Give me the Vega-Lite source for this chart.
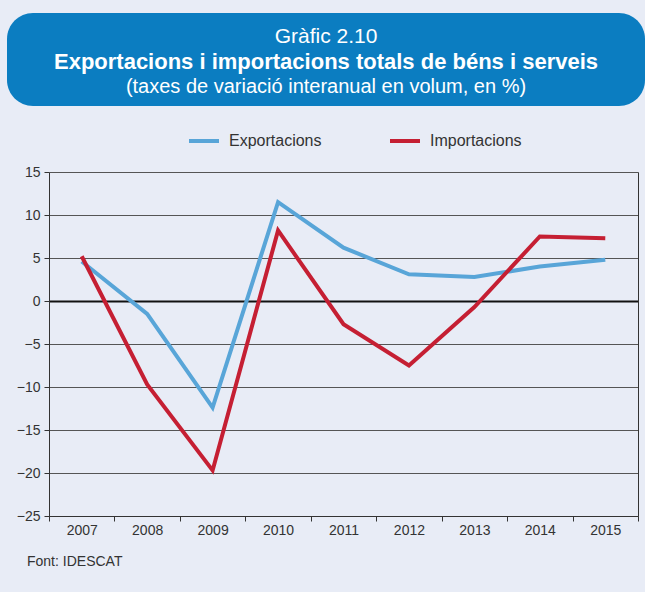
{
  "$schema": "https://vega.github.io/schema/vega-lite/v6.json",
  "background": "#e8ecf6",
  "padding": {"left": 7, "top": 13, "right": 0, "bottom": 24},
  "spacing": 18,
  "resolve": {"legend": {"color": "independent"}, "scale": {"y": "independent", "x": "independent"}},
  "config": {
    "font": "Liberation Sans",
    "view": {"stroke": null}
  },
  "datasets": {
    "header": [
      {"k": 1, "t": "Gràfic 2.10"},
      {"k": 2, "t": "Exportacions i importacions totals de béns i serveis"},
      {"k": 3, "t": "(taxes de variació interanual en volum, en %)"}
    ],
    "series": [
      {"year": "2007", "serie": "Exportacions", "v": 4.6},
      {"year": "2008", "serie": "Exportacions", "v": -1.5},
      {"year": "2009", "serie": "Exportacions", "v": -12.4},
      {"year": "2010", "serie": "Exportacions", "v": 11.5},
      {"year": "2011", "serie": "Exportacions", "v": 6.2},
      {"year": "2012", "serie": "Exportacions", "v": 3.1},
      {"year": "2013", "serie": "Exportacions", "v": 2.8},
      {"year": "2014", "serie": "Exportacions", "v": 4.0},
      {"year": "2015", "serie": "Exportacions", "v": 4.8},
      {"year": "2007", "serie": "Importacions", "v": 5.2},
      {"year": "2008", "serie": "Importacions", "v": -9.7},
      {"year": "2009", "serie": "Importacions", "v": -19.7},
      {"year": "2010", "serie": "Importacions", "v": 8.2},
      {"year": "2011", "serie": "Importacions", "v": -2.7},
      {"year": "2012", "serie": "Importacions", "v": -7.5},
      {"year": "2013", "serie": "Importacions", "v": -0.7},
      {"year": "2014", "serie": "Importacions", "v": 7.5},
      {"year": "2015", "serie": "Importacions", "v": 7.3}
    ]
  },
  "vconcat": [
    {
      "width": 638,
      "height": 93,
      "view": {"fill": "#0b7dc1", "stroke": null, "cornerRadius": 26},
      "data": {"name": "header"},
      "encoding": {
        "y": {"field": "k", "type": "ordinal", "scale": {"type": "point", "range": [24, 74], "padding": 0}, "axis": null},
        "text": {"field": "t"}
      },
      "layer": [
        {
          "transform": [{"filter": "datum.k == 1"}],
          "mark": {"type": "text", "color": "white", "baseline": "middle", "align": "center", "fontSize": 21, "fontWeight": "normal"}
        },
        {
          "transform": [{"filter": "datum.k == 2"}],
          "mark": {"type": "text", "color": "white", "baseline": "middle", "align": "center", "fontSize": 22, "fontWeight": "bold"}
        },
        {
          "transform": [{"filter": "datum.k == 3"}],
          "mark": {"type": "text", "color": "white", "baseline": "middle", "align": "center", "fontSize": 20, "fontWeight": "normal"}
        }
      ]
    },
    {
      "width": 638,
      "height": 344,
      "view": {"stroke": null},
      "data": {"name": "series"},
      "title": {
        "text": "Font: IDESCAT",
        "orient": "bottom",
        "anchor": "start",
        "frame": "group",
        "fontSize": 14,
        "fontWeight": "normal",
        "color": "#333",
        "dx": 20,
        "offset": 18
      },
      "resolve": {"axis": {"y": "independent"}},
      "layer": [
        {
          "mark": {"type": "line", "strokeWidth": 4},
          "encoding": {
            "x": {
              "field": "year",
              "type": "ordinal",
              "scale": {"type": "band", "paddingInner": 0, "paddingOuter": 0, "range": [42, 631]},
              "axis": {
                "title": null,
                "labelAngle": 0,
                "tickBand": "extent",
                "tickSize": 5,
                "labelFontSize": 14,
                "labelPadding": 2,
                "domainColor": "#333",
                "tickColor": "#333",
                "labelColor": "#333",
                "grid": false
              }
            },
            "y": {
              "field": "v",
              "type": "quantitative",
              "scale": {"domain": [-25, 15], "nice": false, "zero": false},
              "axis": {
                "title": null,
                "offset": -42,
                "values": [-25, -20, -15, -10, -5, 0, 5, 10, 15],
                "tickSize": 5,
                "labelFontSize": 14,
                "labelPadding": 4,
                "gridColor": {"condition": {"test": "datum.value === 0", "value": "#111"}, "value": "#555"},
                "gridWidth": {"condition": {"test": "datum.value === 0", "value": 2}, "value": 1},
                "domainColor": "#333",
                "tickColor": "#333",
                "labelColor": "#333"
              }
            },
            "color": {
              "field": "serie",
              "type": "nominal",
              "scale": {"domain": ["Exportacions", "Importacions"], "range": ["#58a5d8", "#c51f33"]},
              "legend": {
                "title": null,
                "orient": "none",
                "direction": "horizontal",
                "legendX": 180,
                "legendY": -48,
                "symbolType": "stroke",
                "symbolStrokeWidth": 4,
                "symbolSize": 900,
                "labelFontSize": 16,
                "labelOffset": 8,
                "labelColor": "#333",
                "columnPadding": 60
              }
            }
          }
        },
        {
          "mark": {"type": "line", "opacity": 0},
          "encoding": {
            "x": {"field": "year", "type": "ordinal"},
            "y": {
              "field": "v",
              "type": "quantitative",
              "axis": {
                "orient": "right",
                "offset": -7,
                "title": null,
                "labels": false,
                "ticks": false,
                "grid": false,
                "domainColor": "#333"
              }
            },
            "detail": {"field": "serie"}
          }
        }
      ]
    }
  ]
}
